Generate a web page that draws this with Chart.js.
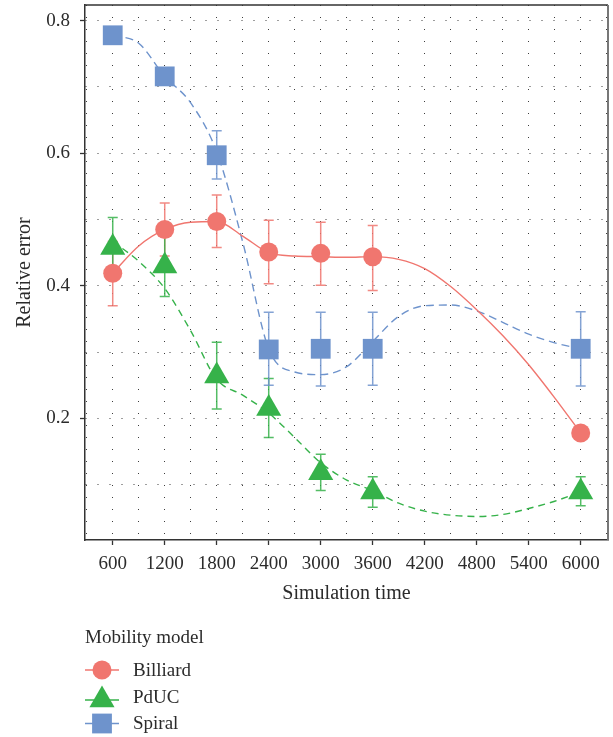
<!DOCTYPE html>
<html>
<head>
<meta charset="utf-8">
<script src="https://cdn.jsdelivr.net/npm/chart.js@4/dist/chart.umd.min.js"></script>
<style>
    html, body { margin: 0; padding: 0; background: #fff; }
    #chart { display: block; }
</style>
</head>
<body>
<canvas id="chart" width="613" height="737"></canvas>
<script>
// measured points (mean relative error) per simulation time
const timePoints = [600, 1200, 1800, 2400, 3000, 3600, 6000];
const billiard = [0.419, 0.485, 0.497, 0.451, 0.449, 0.444, 0.178];
const pduc = [0.458, 0.430, 0.264, 0.215, 0.118, 0.089, 0.089];
const spiral = [0.778, 0.716, 0.597, 0.304, 0.305, 0.305, 0.305];

// error bar ends (null = hidden behind the marker)
const billiardLow = [0.370, 0.445, 0.458, 0.403, 0.401, 0.393, null];
const billiardHigh = [0.467, 0.525, 0.537, 0.499, 0.496, 0.491, null];
const pducLow = [0.413, 0.384, 0.214, 0.171, 0.091, 0.066, 0.068];
const pducHigh = [0.503, 0.476, 0.315, 0.260, 0.146, 0.112, 0.112];
const spiralLow = [null, null, 0.561, 0.250, 0.249, 0.250, 0.249];
const spiralHigh = [null, null, 0.634, 0.360, 0.360, 0.360, 0.361];

// smoothed trend lines
const fitTimes = [600, 900, 1200, 1500, 1800, 2100, 2400, 2700, 3000, 3300, 3600, 3900, 4200, 4500, 4800, 5100, 5400, 5700, 6000];
const billiardFit = [0.419, 0.460, 0.485, 0.496, 0.497, 0.475, 0.450, 0.445, 0.444, 0.443, 0.444, 0.440, 0.426, 0.399, 0.364, 0.325, 0.281, 0.231, 0.178];
const pducFit = [0.467, 0.437, 0.396, 0.332, 0.259, 0.235, 0.208, 0.171, 0.133, 0.107, 0.091, 0.072, 0.060, 0.054, 0.052, 0.055, 0.064, 0.075, 0.089];
const spiralFit = [0.778, 0.766, 0.716, 0.676, 0.602, 0.466, 0.305, 0.270, 0.266, 0.278, 0.316, 0.354, 0.370, 0.371, 0.362, 0.345, 0.327, 0.314, 0.305];

// axis ticks
const xGridValues = [300, 600, 900, 1200, 1500, 1800, 2100, 2400, 2700, 3000, 3300, 3600, 3900, 4200, 4500, 4800, 5100, 5400, 5700, 6000, 6300];
const xTickLabels = [600, 1200, 1800, 2400, 3000, 3600, 4200, 4800, 5400, 6000];
const yGridValues = [0.1, 0.2, 0.3, 0.4, 0.5, 0.6, 0.7, 0.8];
const yTickLabels = ['0.2', '0.4', '0.6', '0.8'];

const seriesNames = ['Billiard', 'PdUC', 'Spiral'];
const colors = ['#F0766F', '#36B24A', '#6E93CC'];
const markerStyles = ['circle', 'triangle', 'rect'];
const markerRadius = [9.5, 14.5, 14];
const lineDashes = [[], [7, 5], [8, 5]];

const FONT = "'Liberation Serif', 'Times New Roman', serif";
const TEXT = '#2b2b2b';
const GRID = 'rgba(40,40,40,0.9)';

function toXY(xs, ys) {
    return xs.map((x, i) => ({ x, y: ys[i] }));
}

const pointSeries = [billiard, pduc, spiral];
const fitSeries = [billiardFit, pducFit, spiralFit];
const errLow = [billiardLow, pducLow, spiralLow];
const errHigh = [billiardHigh, pducHigh, spiralHigh];

const datasets = [];
fitSeries.forEach((fit, i) => {
    datasets.push({
        label: seriesNames[i] + ' fit',
        data: toXY(fitTimes, fit),
        borderColor: colors[i],
        borderWidth: 1.4,
        borderDash: lineDashes[i],
        pointRadius: 0,
        fill: false,
        cubicInterpolationMode: 'monotone',
        order: 2,
    });
});
pointSeries.forEach((vals, i) => {
    datasets.push({
        label: seriesNames[i],
        data: toXY(timePoints, vals),
        showLine: false,
        pointStyle: markerStyles[i],
        pointRadius: markerRadius[i],
        pointBackgroundColor: colors[i],
        pointBorderWidth: 0,
        order: 1,
    });
});

const errorBars = {
    id: 'errorBars',
    beforeDatasetsDraw(chart) {
        const { ctx, scales: { x, y } } = chart;
        ctx.save();
        ctx.lineWidth = 1.5;
        errLow.forEach((lows, s) => {
            ctx.strokeStyle = colors[s];
            ctx.globalAlpha = 0.85;
            lows.forEach((lo, i) => {
                const hi = errHigh[s][i];
                if (lo === null || hi === null) return;
                const px = x.getPixelForValue(timePoints[i]);
                const y1 = y.getPixelForValue(lo);
                const y2 = y.getPixelForValue(hi);
                ctx.beginPath();
                ctx.moveTo(px, y1);
                ctx.lineTo(px, y2);
                ctx.moveTo(px - 5, y1);
                ctx.lineTo(px + 5, y1);
                ctx.moveTo(px - 5, y2);
                ctx.lineTo(px + 5, y2);
                ctx.stroke();
            });
        });
        ctx.restore();
    },
};

const frameAndLegend = {
    id: 'frameAndLegend',
    afterDraw(chart) {
        const { ctx, chartArea: a } = chart;
        ctx.save();
        // top and right edges of the panel
        ctx.strokeStyle = '#333';
        ctx.lineWidth = 1.5;
        ctx.beginPath();
        ctx.moveTo(a.left, a.top);
        ctx.lineTo(a.right, a.top);
        ctx.stroke();
        ctx.strokeStyle = '#777';
        ctx.lineWidth = 2;
        ctx.beginPath();
        ctx.moveTo(a.right, a.top);
        ctx.lineTo(a.right, a.bottom);
        ctx.stroke();

        // legend
        ctx.fillStyle = TEXT;
        ctx.font = '19px ' + FONT;
        ctx.textBaseline = 'alphabetic';
        ctx.textAlign = 'left';
        ctx.fillText('Mobility model', 85, 643);

        const rows = [670, 700, 723.5];
        const baselines = [676, 703, 729];
        seriesNames.forEach((name, i) => {
            ctx.strokeStyle = colors[i];
            ctx.lineWidth = 1.3;
            ctx.setLineDash([]);
            ctx.beginPath();
            ctx.moveTo(85, rows[i]);
            ctx.lineTo(119, rows[i]);
            ctx.stroke();
            ctx.fillStyle = colors[i];
            Chart.helpers.drawPoint(ctx, {
                pointStyle: markerStyles[i],
                radius: markerRadius[i],
                rotation: 0,
                borderWidth: 0,
            }, 102, rows[i]);
            ctx.fillStyle = TEXT;
            ctx.fillText(name, 133, baselines[i]);
        });
        ctx.restore();
    },
};

new Chart(document.getElementById('chart'), {
    type: 'line',
    data: { datasets },
    plugins: [errorBars, frameAndLegend],
    options: {
        responsive: false,
        animation: false,
        devicePixelRatio: 1,
        layout: { autoPadding: false, padding: { top: 5, right: 5, left: 0, bottom: 117 } },
        plugins: {
            legend: { display: false },
            tooltip: { enabled: false },
        },
        scales: {
            x: {
                type: 'linear',
                min: 280,
                max: 6315,
                afterFit: scale => {
                    scale.height = 80;
                    scale.paddingLeft = 0;
                    scale.paddingRight = 0;
                },
                afterBuildTicks: scale => {
                    scale.ticks = xGridValues.map(v => ({ value: v }));
                },
                ticks: {
                    autoSkip: false,
                    maxRotation: 0,
                    padding: 8,
                    color: TEXT,
                    font: { family: FONT, size: 19 },
                    callback: v => (xTickLabels.includes(v) ? String(v) : ''),
                },
                grid: {
                    color: GRID,
                    lineWidth: 1,
                    tickLength: 5,
                    tickWidth: 1.3,
                    tickColor: ctx => (ctx.tick && xTickLabels.includes(ctx.tick.value) ? '#333' : 'rgba(0,0,0,0)'),
                },
                border: { color: '#333', width: 1.5, dash: [1, 11] },
                title: {
                    display: true,
                    text: 'Simulation time',
                    color: TEXT,
                    font: { family: FONT, size: 20 },
                    padding: { top: 0, bottom: 14 },
                },
            },
            y: {
                type: 'linear',
                min: 0.0165,
                max: 0.8237,
                afterFit: scale => {
                    scale.width = 85;
                    scale.paddingTop = 0;
                    scale.paddingBottom = 0;
                },
                afterBuildTicks: scale => {
                    scale.ticks = yGridValues.map(v => ({ value: v }));
                },
                ticks: {
                    autoSkip: false,
                    padding: 10,
                    color: TEXT,
                    font: { family: FONT, size: 19 },
                    callback: v => {
                        const s = v.toFixed(1);
                        return yTickLabels.includes(s) ? s : '';
                    },
                },
                grid: {
                    color: GRID,
                    lineWidth: 1,
                    tickLength: 5,
                    tickWidth: 1.3,
                    tickColor: ctx => (ctx.tick && yTickLabels.includes(ctx.tick.value.toFixed(1)) ? '#333' : 'rgba(0,0,0,0)'),
                },
                border: { color: '#333', width: 1.5, dash: [1, 11] },
                title: {
                    display: true,
                    text: 'Relative error',
                    color: TEXT,
                    font: { family: FONT, size: 20 },
                    padding: { top: 13, bottom: 0 },
                },
            },
        },
    },
});
</script>
</body>
</html>
